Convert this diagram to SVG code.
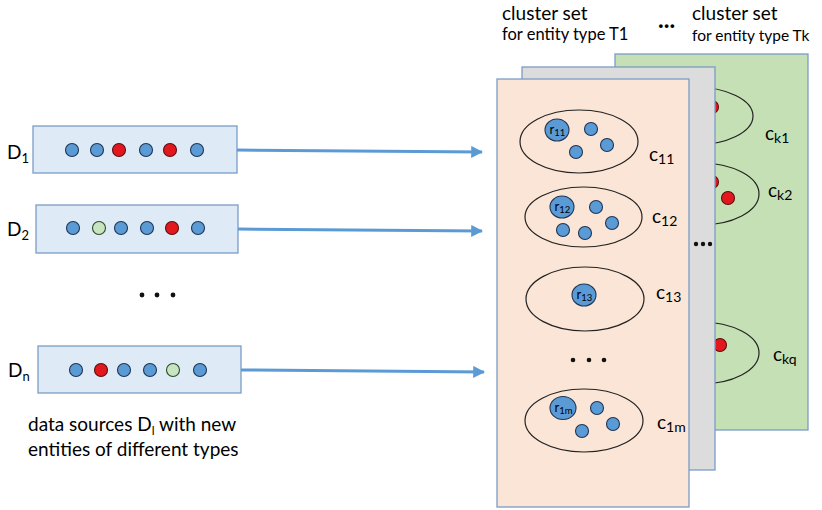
<svg xmlns="http://www.w3.org/2000/svg" width="822" height="510" viewBox="0 0 822 510">
<defs>
<style>
text{font-family:Lato,"Liberation Sans",sans-serif;fill:#000}
.src{fill:#DEEBF7;stroke:#7A9CC6;stroke-width:1.3}
.b{fill:#5B9BD5;stroke:#1F3555;stroke-width:1.1}
.r{fill:#E3181F;stroke:#5A1010;stroke-width:1.1}
.g{fill:#C9E4C0;stroke:#2B4A2B;stroke-width:1.1}
.ell{fill:none;stroke:#222;stroke-width:1.2}
.pan{stroke:#7A9CC6;stroke-width:1.3}
.conn{stroke:#5B9BD5;stroke-width:3;fill:none}
.lbl{font-size:19px}
.sub{font-size:13px}
.csub{font-size:14px}
.h1{font-size:19px}
.h2{font-size:16.5px}
.cap{font-size:19px}
</style>
<marker id="ah" viewBox="0 0 10 10" refX="9" refY="5" markerWidth="4" markerHeight="4" markerUnits="strokeWidth" orient="auto">
<path d="M0,0 L10,5 L0,10 z" fill="#5B9BD5"/>
</marker>
</defs>
<rect width="822" height="510" fill="#fff"/>

<g id="header">
<text class="h1" x="502" y="20">cluster set</text>
<text class="h2" x="502" y="40">for entity type T1</text>
<text x="658" y="28" style="font-size:24px;font-weight:bold">...</text>
<text class="h1" x="692" y="20">cluster set</text>
<text class="h2" x="692" y="41" style="font-size:15.5px">for entity type Tk</text>
</g>

<g id="panel-k">
<rect class="pan" x="615" y="54" width="193" height="376" fill="#C5E0B4"/>
<ellipse class="ell" cx="694" cy="116" rx="59" ry="29"/>
<circle class="r" cx="712" cy="107" r="6.5"/>
<ellipse class="ell" cx="700" cy="194" rx="59" ry="31"/>
<circle class="r" cx="712" cy="182" r="6.5"/>
<circle class="r" cx="728" cy="198" r="6.5"/>
<ellipse class="ell" cx="700" cy="353" rx="59" ry="31"/>
<circle class="r" cx="720" cy="345" r="6.5"/>
<text class="lbl" x="765" y="140">c<tspan class="csub" dy="3">k1</tspan></text>
<text class="lbl" x="768" y="197">c<tspan class="csub" dy="3">k2</tspan></text>
<text class="lbl" x="773" y="361">c<tspan class="csub" dy="3">kq</tspan></text>
</g>

<g id="panel-mid">
<rect class="pan" x="522" y="67" width="193" height="403" fill="#DCDCDC"/>
<circle cx="696" cy="244" r="2.2" fill="#111"/>
<circle cx="703" cy="244" r="2.2" fill="#111"/>
<circle cx="710" cy="244" r="2.2" fill="#111"/>
</g>

<g id="panel-1">
<rect class="pan" x="497" y="79" width="192" height="428" fill="#FBE5D6"/>
</g>

<g id="c11">
<ellipse class="ell" cx="579" cy="141.5" rx="59" ry="31.5"/>
<ellipse class="b" cx="557" cy="130" rx="12" ry="11"/>
<text x="549.5" y="134" style="font-size:13px">r<tspan style="font-size:9.5px" dy="2">11</tspan></text>
<circle class="b" cx="591" cy="129" r="6.5"/>
<circle class="b" cx="607" cy="145" r="6.5"/>
<circle class="b" cx="576" cy="152" r="6.5"/>
<text class="lbl" x="649" y="161">c<tspan class="csub" dy="3">11</tspan></text>
</g>

<g id="c12">
<ellipse class="ell" cx="583.5" cy="217" rx="58.5" ry="30"/>
<ellipse class="b" cx="562" cy="207" rx="12" ry="11"/>
<text x="554.5" y="211" style="font-size:13px">r<tspan style="font-size:9.5px" dy="2">12</tspan></text>
<circle class="b" cx="596" cy="207" r="6.5"/>
<circle class="b" cx="612" cy="223" r="6.5"/>
<circle class="b" cx="563" cy="230" r="6.5"/>
<circle class="b" cx="585" cy="233" r="6.5"/>
<text class="lbl" x="652" y="223">c<tspan class="csub" dy="3">12</tspan></text>
</g>

<g id="c13">
<ellipse class="ell" cx="585" cy="299" rx="59" ry="32"/>
<ellipse class="b" cx="584" cy="295" rx="12" ry="11"/>
<text x="576.5" y="299" style="font-size:13px">r<tspan style="font-size:9.5px" dy="2">13</tspan></text>
<text class="lbl" x="656" y="299">c<tspan class="csub" dy="3">13</tspan></text>
</g>

<g id="dots-mid">
<circle cx="573" cy="360" r="2.3" fill="#111"/>
<circle cx="589" cy="360" r="2.3" fill="#111"/>
<circle cx="604" cy="360" r="2.3" fill="#111"/>
</g>

<g id="c1m">
<ellipse class="ell" cx="584" cy="420.5" rx="59" ry="31.5"/>
<ellipse class="b" cx="563" cy="408" rx="13" ry="11.5"/>
<text x="554.5" y="412" style="font-size:13px">r<tspan style="font-size:9.5px" dy="2">1m</tspan></text>
<circle class="b" cx="597" cy="408" r="6.5"/>
<circle class="b" cx="613" cy="424" r="6.5"/>
<circle class="b" cx="582" cy="431" r="6.5"/>
<text class="lbl" x="657" y="429">c<tspan class="csub" dy="3">1m</tspan></text>
</g>

<g id="D1">
<text class="lbl" x="7" y="159">D<tspan class="sub" dy="4">1</tspan></text>
<rect class="src" x="33" y="126" width="204" height="47"/>
<circle class="b" cx="72" cy="150" r="6.5"/>
<circle class="b" cx="97" cy="150" r="6.5"/>
<circle class="r" cx="119" cy="150" r="6.5"/>
<circle class="b" cx="146" cy="150" r="6.5"/>
<circle class="r" cx="170" cy="150" r="6.5"/>
<circle class="b" cx="197" cy="150" r="6.5"/>
</g>

<g id="D2">
<text class="lbl" x="7" y="236">D<tspan class="sub" dy="4">2</tspan></text>
<rect class="src" x="36" y="205" width="202" height="48"/>
<circle class="b" cx="73" cy="228" r="6.5"/>
<circle class="g" cx="99" cy="228" r="6.5"/>
<circle class="b" cx="121" cy="228" r="6.5"/>
<circle class="b" cx="147" cy="228" r="6.5"/>
<circle class="r" cx="172" cy="228" r="6.5"/>
<circle class="b" cx="198" cy="228" r="6.5"/>
</g>

<g id="dots-left">
<circle cx="142" cy="295" r="2.4" fill="#111"/>
<circle cx="157" cy="295" r="2.4" fill="#111"/>
<circle cx="173" cy="295" r="2.4" fill="#111"/>
</g>

<g id="Dn">
<text class="lbl" x="8" y="377">D<tspan class="sub" dy="4">n</tspan></text>
<rect class="src" x="38" y="346" width="203" height="47"/>
<circle class="b" cx="76" cy="370" r="6.5"/>
<circle class="r" cx="101" cy="370" r="6.5"/>
<circle class="b" cx="124" cy="370" r="6.5"/>
<circle class="b" cx="150" cy="370" r="6.5"/>
<circle class="g" cx="173" cy="370" r="6.5"/>
<circle class="b" cx="200" cy="370" r="6.5"/>
</g>

<g id="caption">
<text class="cap" x="28" y="431">data sources D<tspan style="font-size:12px" dy="4">l</tspan><tspan dy="-4"> with new</tspan></text>
<text class="cap" x="28" y="456">entities of different types</text>
</g>

<g id="connectors">
<path class="conn" d="M237,150 L482,152" marker-end="url(#ah)"/>
<path class="conn" d="M238,229 L482,231" marker-end="url(#ah)"/>
<path class="conn" d="M241,370 L484,372" marker-end="url(#ah)"/>
</g>
</svg>
